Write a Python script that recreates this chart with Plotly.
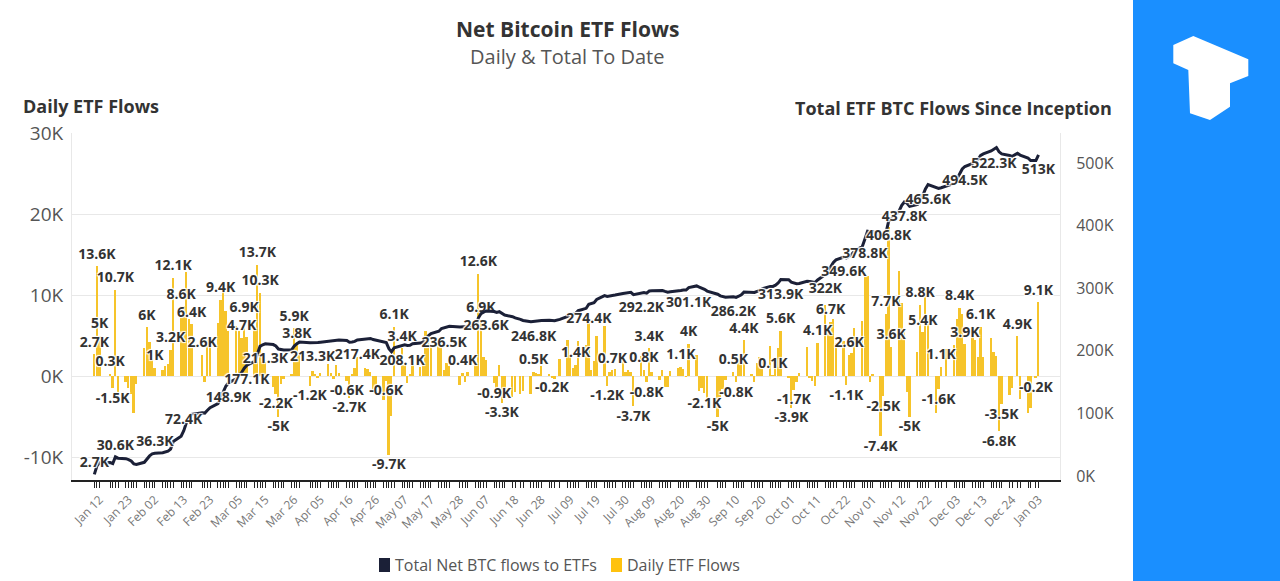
import itertools
import pandas as pd
import plotly.graph_objects as go

# ---------------- data ----------------
HOLIDAYS = ["2024-01-15", "2024-02-19", "2024-03-29", "2024-05-27", "2024-06-19",
            "2024-07-04", "2024-09-02", "2024-11-28", "2024-12-25", "2025-01-01"]
dates = pd.bdate_range("2024-01-10", "2025-01-03", freq="C", holidays=HOLIDAYS)

# daily net ETF flows, thousands of BTC (one row per trading week)
daily_flows_k = [
    2.66, 13.56, 4.96,
    0.26, -1.54, 10.66, -2.10,
    -0.80, -1.50, -2.20, -4.60, -1.00,
    3.50, 6.00, 4.20, 3.24, 1.00,
    0.80, 1.20, 1.50, 3.20, 12.10,
    8.60, 8.70, 12.80, 7.00, 6.40,
    2.60, -0.70, 4.50, 4.00,
    6.50, 9.40, 10.50, 8.00, 5.50,
    6.20, 5.60, 4.70, 6.90, 4.80,
    6.00, 13.70, 10.30, 2.50, 1.70,
    -1.30, -2.20, -5.00, -1.00, -0.40,
    0.20, 5.90, 3.80, 2.60,
    -1.20, 0.60, 0.30, -0.20, 0.40,
    1.50, 0.40, -0.40, 1.40, 0.40,
    -0.60, -2.70, 0.30, 1.00, 2.30,
    1.00, 0.90, 0.50, -1.80, -1.20,
    -3.00, -0.60, -9.70, -4.90, 6.10,
    3.40, 1.40, -0.90, 0.30, 2.40,
    1.10, 1.60, 5.50, 4.50, 3.60,
    3.70, 4.40, 0.80, 1.60, 1.20,
    -1.10, 0.40, -0.80, 0.50,
    1.50, 12.60, 6.90, 2.30, 2.00,
    -0.90, -1.50, 1.40, -3.30, -2.20,
    -2.60, -2.00, -2.20, -1.80,
    -2.20, 0.50, 0.40, 0.20, 1.20,
    0.20, -0.20, -0.40, 2.10,
    4.50, 2.60, 1.00, 1.40, 4.30,
    3.80, 6.50, 0.80, 1.80, 5.00,
    6.20, -1.20, 0.50, 0.70, 0.90,
    2.50, 0.50, 0.80, 0.50, -3.70,
    2.50, 0.80, -0.80, 3.40, 0.50,
    -0.50, 0.70, -1.40, -1.30, 0.60,
    1.00, 1.10, 0.90, -0.10, 4.00,
    2.60, -1.80, -1.50, -2.10, -2.90,
    -5.00, -2.60, -1.60, -0.50,
    0.50, -0.80, 1.80, 2.20, 4.40,
    0.20, -0.80, 1.60, 2.30, 2.00,
    3.70, 0.10, 2.00, 3.40, 5.60,
    -0.30, -3.90, -1.70, -0.80, 0.40,
    3.60, -0.30, -0.60, -1.20, 4.10,
    8.80, 5.50, 6.70, 7.00, 4.10,
    4.30, -1.10, 2.60, 2.80, 5.90,
    6.80, 12.20, 12.30, -0.80, 0.30,
    -7.40, -2.50, 7.70, 18.40, 3.60,
    13.00, 9.00, 5.40, -2.00, -5.00,
    3.00, 8.80, 5.40, 10.60, 7.00,
    -4.60, -1.60, 1.10, 3.30,
    3.80, 7.00, 8.40, 7.60, 3.90,
    4.90, 4.40, 2.30, 6.10, 2.40,
    4.70, 3.00, 2.50, -6.80, -3.50,
    -2.40, -1.50, 4.90, -2.80,
    -4.60, -4.00, -0.20, 9.10,
]
assert len(daily_flows_k) == len(dates), (len(daily_flows_k), len(dates))
total_k = list(itertools.accumulate(daily_flows_k))

bar_label_dates = [
    "2024-01-10", "2024-01-11", "2024-01-12", "2024-01-16", "2024-01-17", "2024-01-18",
    "2024-01-30", "2024-02-02", "2024-02-08", "2024-02-09", "2024-02-12", "2024-02-16",
    "2024-02-20", "2024-02-27", "2024-03-06", "2024-03-07", "2024-03-12", "2024-03-13",
    "2024-03-19", "2024-03-20", "2024-03-26", "2024-03-27", "2024-04-01", "2024-04-15",
    "2024-04-16", "2024-04-30", "2024-05-01", "2024-05-03", "2024-05-06", "2024-05-29",
    "2024-06-04", "2024-06-05", "2024-06-10", "2024-06-13", "2024-06-25", "2024-07-02",
    "2024-07-11", "2024-07-23", "2024-07-25", "2024-08-02", "2024-08-06", "2024-08-07",
    "2024-08-08", "2024-08-20", "2024-08-23", "2024-08-29", "2024-09-03", "2024-09-10",
    "2024-09-09", "2024-09-13", "2024-09-24", "2024-09-27", "2024-10-01", "2024-10-02",
    "2024-10-11", "2024-10-16", "2024-10-22", "2024-10-23", "2024-11-04", "2024-11-05",
    "2024-11-06", "2024-11-08", "2024-11-15", "2024-11-19", "2024-11-20", "2024-11-26",
    "2024-11-27", "2024-12-04", "2024-12-06", "2024-12-12", "2024-12-19", "2024-12-20",
    "2024-12-26", "2025-01-02", "2025-01-03",
]
total_label_dates_above = ["2024-01-10", "2024-01-18", "2024-02-02", "2024-02-13"]
total_label_dates_below = [
    "2024-03-01", "2024-03-08", "2024-03-15", "2024-04-02", "2024-04-19", "2024-05-06",
    "2024-05-22", "2024-06-07", "2024-06-25", "2024-07-16", "2024-08-05", "2024-08-23",
    "2024-09-09", "2024-09-27", "2024-10-14", "2024-10-21", "2024-10-29", "2024-11-07",
    "2024-11-13", "2024-11-22", "2024-12-06", "2024-12-17", "2025-01-03",
]
tick_label_dates = [
    "2024-01-12", "2024-01-23", "2024-02-02", "2024-02-13", "2024-02-23", "2024-03-05",
    "2024-03-15", "2024-03-26", "2024-04-05", "2024-04-16", "2024-04-26", "2024-05-07",
    "2024-05-17", "2024-05-28", "2024-06-07", "2024-06-18", "2024-06-28", "2024-07-09",
    "2024-07-19", "2024-07-30", "2024-08-09", "2024-08-20", "2024-08-30", "2024-09-10",
    "2024-09-20", "2024-10-01", "2024-10-11", "2024-10-22", "2024-11-01", "2024-11-12",
    "2024-11-22", "2024-12-03", "2024-12-13", "2024-12-24", "2025-01-03",
]
left_ticks = [-10, 0, 10, 20, 30]
right_ticks = [0, 100, 200, 300, 400, 500]

# ---------------- helpers ----------------
BAR = "#F6C42A"
NAVY = "#1B2037"
TXT = "#333333"
FONT = "Open Sans"
DAY_MS = 86400000
HALO = "1px 1px 1px #fff, -1px -1px 1px #fff, 1px -1px 1px #fff, -1px 1px 1px #fff"


def fmt(v):
    s = f"{v:.1f}"
    if s.endswith(".0"):
        s = s[:-2]
    return s + "K"


idx = {d.strftime("%Y-%m-%d"): i for i, d in enumerate(dates)}

# plot-area pixel frame
L, R, T, B = 72, 1060, 133, 480
W, H = 1280, 581


def PX(x):
    return (x - L) / (R - L)


def PY(y):
    return (B - y) / (B - T)


fig = go.Figure()

fig.add_trace(go.Bar(x=dates, y=daily_flows_k, marker=dict(color=BAR, line=dict(width=0)),
                     width=0.72 * DAY_MS, name="Daily ETF Flows", showlegend=False,
                     hoverinfo="x+y"))
fig.add_trace(go.Scatter(x=dates, y=total_k, yaxis="y2", mode="lines",
                         line=dict(color=NAVY, width=3), name="Total Net BTC flows to ETFs",
                         showlegend=False))

pos_d = [d for d in bar_label_dates if daily_flows_k[idx[d]] >= 0]
neg_d = [d for d in bar_label_dates if daily_flows_k[idx[d]] < 0]
lab_font = dict(family=FONT, size=14, color=TXT, weight=700, shadow=HALO)
for group, tp in ((pos_d, "top center"), (neg_d, "bottom center")):
    fig.add_trace(go.Scatter(
        x=[dates[idx[d]] for d in group], y=[daily_flows_k[idx[d]] for d in group],
        mode="markers+text", marker=dict(size=5, opacity=0),
        text=[fmt(daily_flows_k[idx[d]]) for d in group],
        textposition=tp, textfont=lab_font, showlegend=False, hoverinfo="skip"))
for group, tp, ms in ((total_label_dates_above, "top center", 4),
                      (total_label_dates_below, "bottom center", 12)):
    fig.add_trace(go.Scatter(
        x=[dates[idx[d]] for d in group], y=[total_k[idx[d]] for d in group], yaxis="y2",
        mode="markers+text", marker=dict(size=ms, opacity=0),
        text=[fmt(total_k[idx[d]]) for d in group],
        textposition=tp, textfont=lab_font, showlegend=False, hoverinfo="skip"))

tick_set = set(tick_label_dates)
ticktext = [d.strftime("%b %d") if d.strftime("%Y-%m-%d") in tick_set else "" for d in dates]

shapes = [
    dict(type="rect", xref="paper", yref="paper", x0=PX(1133), x1=PX(1300), y0=PY(620), y1=PY(-20),
         fillcolor="#1A8FFF", line=dict(width=0), layer="below"),
]
logo = [(1173.3, 45), (1193.3, 36), (1248.3, 59.3), (1248.3, 76), (1230, 83.3), (1230, 106.7),
        (1210, 120), (1190, 113.3), (1188.3, 70), (1173.3, 63.3)]
path = "M " + " L ".join(f"{PX(x):.5f},{PY(y):.5f}" for x, y in logo) + " Z"
shapes.append(dict(type="path", xref="paper", yref="paper", path=path,
                   fillcolor="#FFFFFF", line=dict(width=0)))
# legend swatches
shapes.append(dict(type="rect", xref="paper", yref="paper", x0=PX(379), x1=PX(390), y0=PY(572), y1=PY(558),
                   fillcolor=NAVY, line=dict(width=0)))
shapes.append(dict(type="rect", xref="paper", yref="paper", x0=PX(611), x1=PX(622), y0=PY(572), y1=PY(558),
                   fillcolor="#FFC20E", line=dict(width=0)))

annotations = [
    dict(text="<b>Net Bitcoin ETF Flows</b>", x=PX(567), y=PY(29), xref="paper", yref="paper",
         showarrow=False, font=dict(family=FONT, size=21, color=TXT), xanchor="center", yanchor="middle"),
    dict(text="Daily & Total To Date", x=PX(567), y=PY(56), xref="paper", yref="paper",
         showarrow=False, font=dict(family=FONT, size=20, color="#555555"), xanchor="center", yanchor="middle"),
    dict(text="<b>Daily ETF Flows</b>", x=PX(21), y=PY(106), xref="paper", yref="paper",
         showarrow=False, font=dict(family=FONT, size=18, color=TXT), xanchor="left", yanchor="middle"),
    dict(text="<b>Total ETF BTC Flows Since Inception</b>", x=PX(1114), y=PY(108), xref="paper", yref="paper",
         showarrow=False, font=dict(family=FONT, size=18, color=TXT), xanchor="right", yanchor="middle"),
    dict(text="Total Net BTC flows to ETFs", x=PX(393), y=PY(565), xref="paper", yref="paper",
         showarrow=False, font=dict(family=FONT, size=16, color="#555555"), xanchor="left", yanchor="middle"),
    dict(text="Daily ETF Flows", x=PX(625), y=PY(565), xref="paper", yref="paper",
         showarrow=False, font=dict(family=FONT, size=16, color="#555555"), xanchor="left", yanchor="middle"),
]

fig.update_layout(
    width=W, height=H, autosize=False,
    margin=dict(l=L, r=W - R, t=T, b=H - B, pad=0),
    paper_bgcolor="white", plot_bgcolor="white",
    font=dict(family=FONT, color="#555555"),
    showlegend=False, bargap=0,
    xaxis=dict(type="date", range=["2024-01-01 12:00", "2025-01-11 04:00"],
               tickmode="array", tickvals=list(dates), ticktext=ticktext, tickangle=-45,
               ticks="outside", ticklen=6, tickwidth=1, tickcolor="#222222",
               showline=True, linecolor="#222222", linewidth=2, showgrid=False, zeroline=False,
               tickfont=dict(family=FONT, size=12, color="#777777"), automargin=False),
    yaxis=dict(range=[-12.84, 30.0], tickmode="array", tickvals=left_ticks,
               ticktext=[f"{v}K" for v in left_ticks], showgrid=True, gridcolor="#E8E8E8",
               gridwidth=1, zeroline=False, showline=True, linecolor="#E8E8E8",
               ticklabelstandoff=4,
               tickfont=dict(family=FONT, size=19, color="#555555"), automargin=False),
    yaxis2=dict(range=[-6.4, 548.0], overlaying="y", side="right", tickmode="array",
                tickvals=right_ticks, ticktext=[f"{v}K" for v in right_ticks],
                showgrid=False, zeroline=False, showline=True, linecolor="#E8E8E8",
                ticklabelstandoff=12,
                tickfont=dict(family=FONT, size=16, color="#555555"), automargin=False),
    shapes=shapes, annotations=annotations,
)

fig.write_html("out.html", config={"displayModeBar": False},
               post_script="document.body.style.margin='0';document.body.style.overflow='hidden';")
